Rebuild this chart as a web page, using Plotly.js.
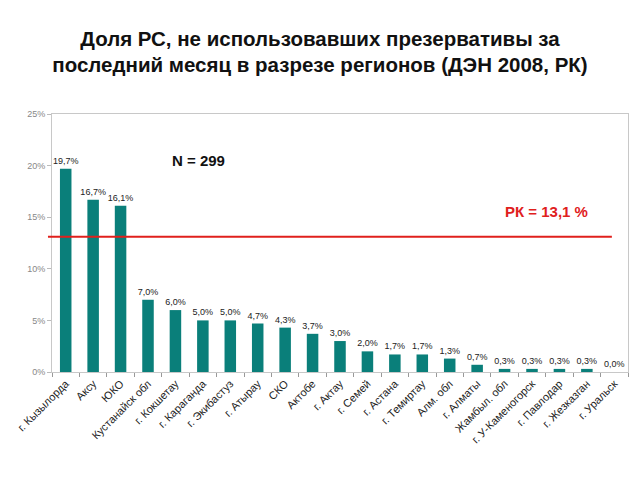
<!DOCTYPE html>
<html>
<head>
<meta charset="utf-8">
<script src="https://cdn.plot.ly/plotly-3.0.1.min.js"></script>
<style>html,body{margin:0;padding:0;background:#fff;}#chart{width:640px;height:480px;}</style>
</head>
<body>
<div id="chart"></div>
<script>
const regions = ["г. Кызылорда","Аксу","ЮКО","Кустанайск обл","г. Кокшетау","г. Караганда","г. Экибастуз","г. Атырау","СКО","Актобе","г. Актау","г. Семей","г. Астана","г. Темиртау","Алм. обл","г. Алматы","Жамбыл. обл","г. У-Каменогорск","г. Павлодар","г. Жезказган","г. Уральск"];
const shares = [19.7,16.7,16.1,7.0,6.0,5.0,5.0,4.7,4.3,3.7,3.0,2.0,1.7,1.7,1.3,0.7,0.3,0.3,0.3,0.3,0.0];
const nationalAvg = 13.1;
const yTicks = [0,5,10,15,20,25];

const trace = {
  type: 'bar',
  x: regions,
  y: shares,
  marker: {color: '#0a7f7a'},
  text: shares.map(v => v.toFixed(1).replace('.', ',') + '%'),
  textposition: 'outside',
  constraintext: 'none',
  cliponaxis: false,
  textfont: {family: 'Liberation Sans, Arial', size: 9, color: '#222'},
  hoverinfo: 'skip'
};

const layout = {
  width: 640, height: 480,
  margin: {l: 52, r: 12, t: 114, b: 108},
  paper_bgcolor: '#fff', plot_bgcolor: '#fff',
  showlegend: false,
  bargap: 0.58,
  title: {
    text: '<b>Доля РС, не использовавших презервативы за<br>последний месяц в разрезе регионов (ДЭН 2008, РК)</b>',
    font: {family: 'Liberation Sans, Arial', size: 20.5, color: '#111'},
    x: 0.5, xanchor: 'center', y: 0.905, yanchor: 'middle'
  },
  xaxis: {
    type: 'category',
    tickangle: -45,
    tickfont: {family: 'Liberation Sans, Arial', size: 11, color: '#222'},
    showline: true, linecolor: '#c8c8c8', linewidth: 1,
    ticks: 'outside', ticklen: 4, tickcolor: '#999', tickson: 'boundaries',
    showgrid: false, mirror: true, fixedrange: true
  },
  yaxis: {
    range: [0, 25],
    tickvals: yTicks,
    ticktext: yTicks.map(v => v + '%'),
    tickfont: {family: 'Liberation Sans, Arial', size: 9, color: '#888'},
    showline: true, linecolor: '#c8c8c8', linewidth: 1, mirror: true,
    ticks: 'outside', ticklen: 4, tickcolor: '#bbb',
    showgrid: false, zeroline: false, fixedrange: true
  },
  shapes: [{
    type: 'line', xref: 'paper', yref: 'y',
    x0: -0.007, x1: 0.972, y0: nationalAvg, y1: nationalAvg,
    line: {color: '#e0201c', width: 2}
  }],
  annotations: [
    {text: '<b>N = 299</b>', xref: 'paper', yref: 'paper', x: 0.255, y: 0.818,
     xanchor: 'center', yanchor: 'middle',
     showarrow: false, font: {family: 'Liberation Sans, Arial', size: 15, color: '#111'}},
    {text: '<b>РК = 13,1 %</b>', xref: 'paper', yref: 'paper', x: 0.858, y: 0.624,
     xanchor: 'center', yanchor: 'middle',
     showarrow: false, font: {family: 'Liberation Sans, Arial', size: 15, color: '#e0201c'}}
  ]
};

Plotly.newPlot('chart', [trace], layout, {staticPlot: true, displayModeBar: false});
</script>
</body>
</html>
